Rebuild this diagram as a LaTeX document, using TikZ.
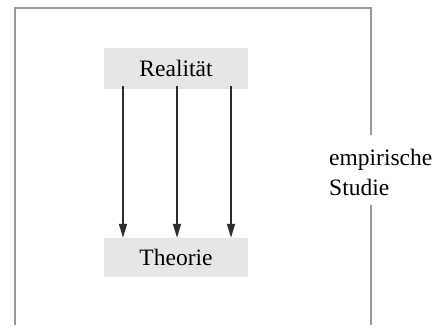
\documentclass[tikz,border=0pt]{standalone}
\usepackage{fontspec}
\setmainfont{Liberation Serif}
\usetikzlibrary{arrows.meta}
\definecolor{boxfill}{HTML}{E6E6E6}
\definecolor{framegray}{HTML}{9A9A9A}
\definecolor{arrowcol}{HTML}{2E2E2E}
\begin{document}
\begin{tikzpicture}[x=1pt,y=-1pt,
  termbox/.style={fill=boxfill, draw=none, minimum width=144pt, inner sep=0pt,
    font=\fontsize{23.5}{28}\selectfont, text=black},
  flow/.style={draw=arrowcol, line width=1.5pt,
    -{Triangle[length=14pt,width=8pt]}},
  frameline/.style={draw=framegray, line width=2.8pt},
  sidelabel/.style={font=\fontsize{23.5}{30}\selectfont, align=left, anchor=west,
    inner sep=0pt, text=black}]
  \useasboundingbox (0,0) rectangle (443,325);

  % the two terms
  \node[termbox, minimum height=41pt] (real) at (176,68.5) {Realit\"at};
  \node[termbox, minimum height=39pt] (theo) at (176,257.5) {Theorie};

  % three parallel arrows from reality to theory
  \foreach \xx in {123,177,231} {
    \draw[flow] ([yshift=3pt]real.south -| \xx,0) -- (theo.north -| \xx,0);
  }

  % frame of the empirical study, open at the bottom
  \coordinate (bl) at (15,325);
  \coordinate (tl) at (15,8);
  \coordinate (tr) at (371,8);
  \coordinate (gapA) at (371,135);
  \coordinate (gapB) at (371,205);
  \coordinate (br) at (371,325);
  \draw[frameline] (bl) -- (tl) -- (tr) -- (gapA);
  \draw[frameline] (gapB) -- (br);

  \node[sidelabel] (study) at (329,172) {empirische\\Studie};
\end{tikzpicture}
\end{document}
